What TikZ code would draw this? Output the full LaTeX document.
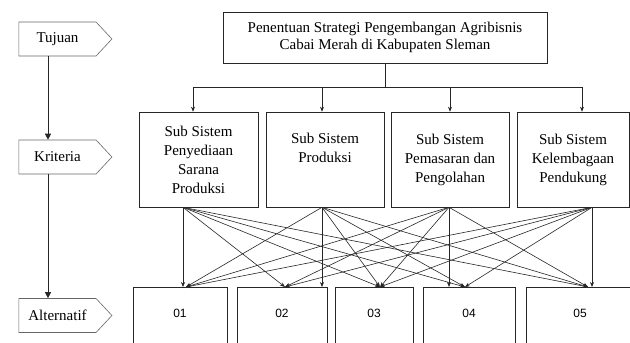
\documentclass[tikz,border=0pt]{standalone}
\usepackage{fontspec}
\setmainfont{Liberation Serif}
\newfontfamily\numfont{Liberation Sans}
\usetikzlibrary{shapes.symbols,arrows.meta}
\begin{document}
\begin{tikzpicture}[x=1pt,y=-1pt,line width=0.6pt,draw=black!85,>={Stealth[length=5pt,width=4pt]},
  lvl/.style={signal,signal to=east,signal pointer angle=94,draw=black!60,minimum width=93pt,minimum height=34pt,inner sep=0pt,font=\fontsize{15}{19}\selectfont},
  kotak/.style={draw=black!85,align=center,inner sep=0pt,minimum height=95pt,font=\fontsize{15}{19}\selectfont},
  alt/.style={draw=black!85,inner sep=0pt,text height=30pt,text depth=43pt,font=\numfont\fontsize{12}{14}\selectfont},
  tri/.style={-{Triangle[length=6pt,width=6pt]}}]
\clip (0,0) rectangle (630,343);
\node[lvl](tujuan)at(57.5,39){Tujuan};
\node[lvl](kriteria)at(57.5,157){Kriteria};
\node[lvl](alternatif)at(57.5,315.5){Alternatif};
\coordinate(kiri)at(48,0);
\draw[tri](tujuan.south-|kiri)--(kriteria.north-|kiri);
\draw[tri](kriteria.south-|kiri)--(alternatif.north-|kiri);
\node[draw=black!85,align=center,minimum width=324pt,minimum height=51pt,inner sep=0pt,font=\fontsize{15}{17}\selectfont](tujuanbox)at(385,37.5)
  {Penentuan Strategi Pengembangan Agribisnis\\Cabai Merah di Kabupaten Sleman};
\node[kotak,minimum width=119pt](ss1)at(198.5,159.5){Sub Sistem\\Penyediaan\\Sarana\\Produksi};
\node[kotak,minimum width=118pt](ss2)at(325,159.5){Sub Sistem\\Produksi\\[4pt]};
\node[kotak,minimum width=118pt](ss3)at(450,159.5){Sub Sistem\\Pemasaran dan\\Pengolahan};
\node[kotak,minimum width=112pt](ss4)at(573,159.5){Sub Sistem\\Kelembagaan\\Pendukung};
\node[alt,minimum width=94pt,anchor=north](a1)at(180,287){01};
\node[alt,minimum width=90pt,anchor=north](a2)at(282,287){02};
\node[alt,minimum width=78pt,anchor=north](a3)at(374,287){03};
\node[alt,minimum width=92pt,anchor=north](a4)at(469,287){04};
\node[alt,minimum width=108pt,anchor=north](a5)at(580,287){05};
\coordinate(bus)at(385,87);
\foreach \i/\d in {1/-5.5,2/-3,3/0,4/9}
  \coordinate(in\i)at([xshift=\d pt]ss\i.north);
\foreach \i/\d in {1/-15.5,2/-3,3/-1,4/19}
  \coordinate(out\i)at([xshift=\d pt]ss\i.south);
\foreach \j/\d in {1/6,2/3,3/6,4/-4,5/8}
  \coordinate(tg\j)at([xshift=\d pt]a\j.north);
\draw(tujuanbox.south)--(bus);
\draw(in1|-bus)--(in4|-bus);
\foreach \i in {1,...,4}
  \draw[->](in\i|-bus)--(in\i);
\foreach \i/\own in {1/1,2/2,3/4,4/5}{
  \foreach \j in {1,...,5}{
    \ifnum\j=\own
      \draw[->](out\i)--(out\i|-a\j.north);
    \else
      \draw[->](out\i)--(tg\j);
    \fi
  }
}
\end{tikzpicture}
\end{document}
